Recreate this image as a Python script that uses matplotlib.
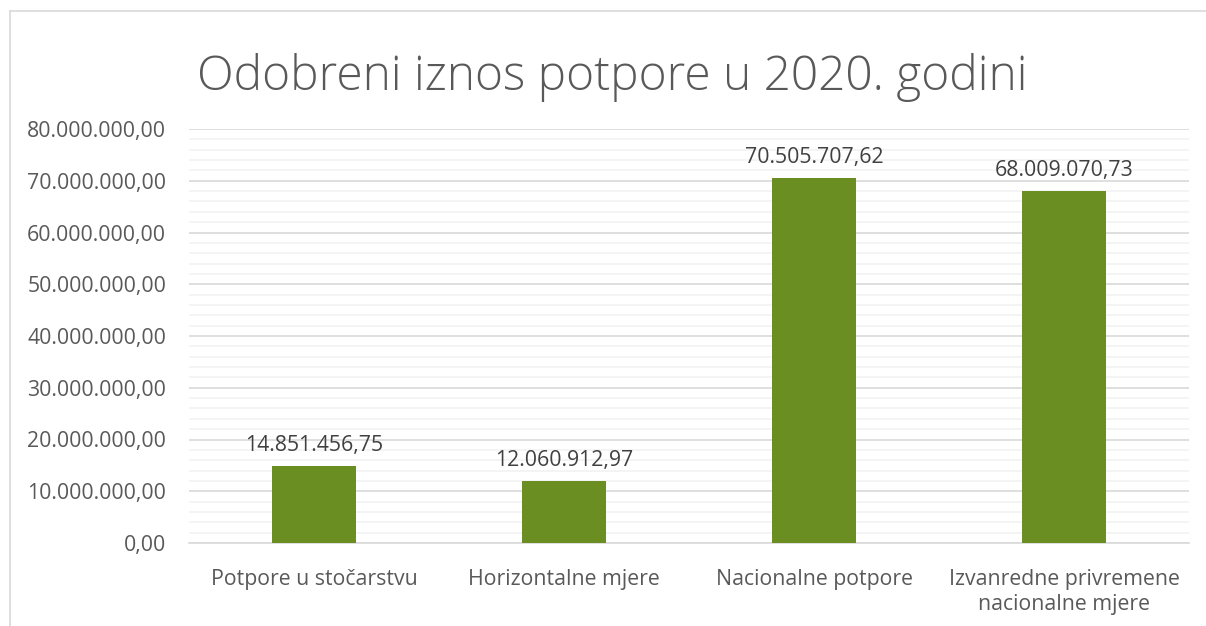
import matplotlib
matplotlib.use("Agg")
import matplotlib.pyplot as plt
from matplotlib.lines import Line2D
from matplotlib.ticker import MultipleLocator, FuncFormatter

categories = ["Potpore u stočarstvu", "Horizontalne mjere", "Nacionalne potpore",
              "Izvanredne privremene\nnacionalne mjere"]
values = [14851456.75, 12060912.97, 70505707.62, 68009070.73]
title = "Odobreni iznos potpore u 2020. godini"

def fmt_hr(v, pos=None):
    s = f"{v:,.2f}"
    return s.replace(",", "X").replace(".", ",").replace("X", ".")

W, H = 1206, 626
fig = plt.figure(figsize=(W / 100, H / 100), dpi=100)
plt.rcParams['font.family'] = ['Open Sans', 'DejaVu Sans']
txt = "#595959"

# chart border (top and left edges visible)
fig.add_artist(Line2D([10 / W, 1.0], [1 - 11 / H] * 2, transform=fig.transFigure,
                      color="#d9d9d9", linewidth=1.2))
fig.add_artist(Line2D([10 / W] * 2, [0.0, 1 - 11 / H], transform=fig.transFigure,
                      color="#d9d9d9", linewidth=1.2))

ax = fig.add_axes([189 / W, 1 - 543 / H, 1000 / W, (543 - 129) / H])
x = range(len(categories))
bars = ax.bar(x, values, width=0.336, color="#6b8e23", zorder=3)
ax.set_xlim(-0.5, len(categories) - 0.5)
ax.set_ylim(0, 80000000)
ax.yaxis.set_major_locator(MultipleLocator(10000000))
ax.yaxis.set_minor_locator(MultipleLocator(2000000))
ax.yaxis.set_major_formatter(FuncFormatter(fmt_hr))
ax.grid(axis="y", which="major", color="#d9d9d9", linewidth=1.2, zorder=1)
ax.grid(axis="y", which="minor", color="#f2f2f2", linewidth=1.2, zorder=0)
for s in ["top", "right", "left"]:
    ax.spines[s].set_visible(False)
ax.spines["bottom"].set_color("#d9d9d9")
ax.spines["bottom"].set_linewidth(1.2)
ax.tick_params(axis="both", which="both", length=0, colors=txt, labelsize=15.3)
ax.tick_params(axis="y", pad=16.5)
ax.tick_params(axis="x", pad=19)
ax.set_xticks(list(x))
ax.set_xticklabels(categories, color=txt, fontsize=15.3, linespacing=1.25)

for b, v in zip(bars, values):
    ax.annotate(fmt_hr(v), (b.get_x() + b.get_width() / 2, v), xytext=(0, 7),
                textcoords="offset points", ha="center", va="bottom", color="#404040", fontsize=15.3)

fig.text(612 / W, 1 - 77 / H, title, ha="center", va="center", fontsize=34.5, color=txt,
         fontweight="light")

fig.savefig("out.png", dpi=100, facecolor="white")
